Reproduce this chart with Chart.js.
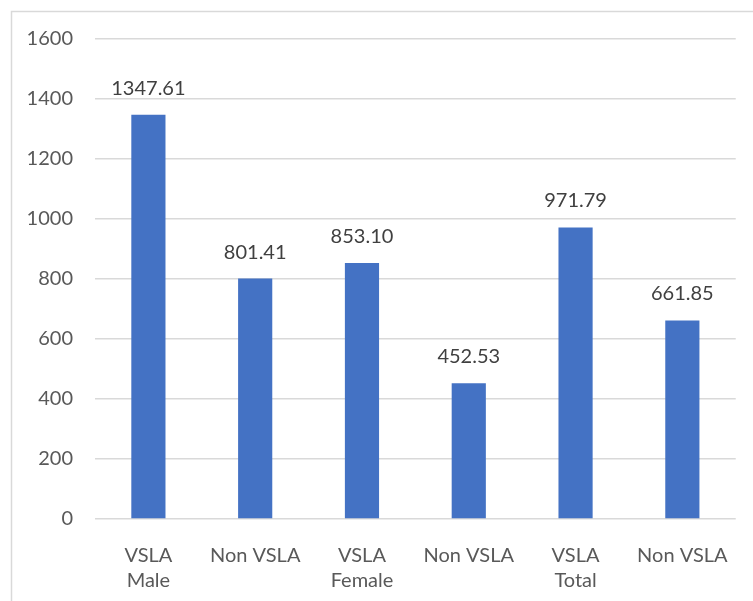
<!DOCTYPE html>
<html><head><meta charset="utf-8">
<script src="https://cdn.jsdelivr.net/npm/chart.js@4/dist/chart.umd.min.js"></script>
<style>html,body{margin:0;padding:0;background:#fff;}#wrap{width:753px;height:601px;position:relative;}</style>
</head><body><div id="wrap"><canvas id="c" width="753" height="601"></canvas></div>
<script>
const categories = [["VSLA","Male"],"Non VSLA",["VSLA","Female"],"Non VSLA",["VSLA","Total"],"Non VSLA"];
const values = [1347.61, 801.41, 853.10, 452.53, 971.79, 661.85];
const yTicks = [0,200,400,600,800,1000,1200,1400,1600];

const frame = {id:'frame', beforeDraw(chart){const c=chart.ctx;c.save();c.strokeStyle='#d9d9d9';c.lineWidth=1.5;c.strokeRect(11.5,11.5,760,620);c.restore();}};
const labels = {id:'lbl', afterDatasetsDraw(chart){const c=chart.ctx;const meta=chart.getDatasetMeta(0);c.save();c.font='20px Lato';c.fillStyle='#404040';c.textAlign='center';c.textBaseline='alphabetic';
meta.data.forEach((b,i)=>{c.fillText(values[i].toFixed(2), b.x, b.y-20);});c.restore();}};

new Chart(document.getElementById('c'),{
 type:'bar',
 data:{labels:categories,datasets:[{data:values,backgroundColor:'#4472C4',barPercentage:0.5,categoryPercentage:0.64}]},
 options:{responsive:false,animation:false,
  layout:{padding:{top:39,right:17,bottom:0,left:0}},
  plugins:{legend:{display:false},tooltip:{enabled:false}},
  scales:{
   y:{min:0,max:1600,afterBuildTicks(ax){ax.ticks=yTicks.map(v=>({value:v}));},
      afterFit(ax){ax.width=95;},
      grid:{color:'#d9d9d9',lineWidth:1.5,drawTicks:false},border:{display:false},
      ticks:{color:'#595959',font:{family:'Lato',size:20},padding:22,callback:(v)=>String(v)}},
   x:{afterFit(ax){ax.height=82;},
      grid:{display:false,drawTicks:false},border:{display:false},
      ticks:{color:'#595959',font:{family:'Lato',size:20,lineHeight:1.25},padding:24,maxRotation:0,autoSkip:false}}
  }},
 plugins:[frame,labels]
});
</script></body></html>
